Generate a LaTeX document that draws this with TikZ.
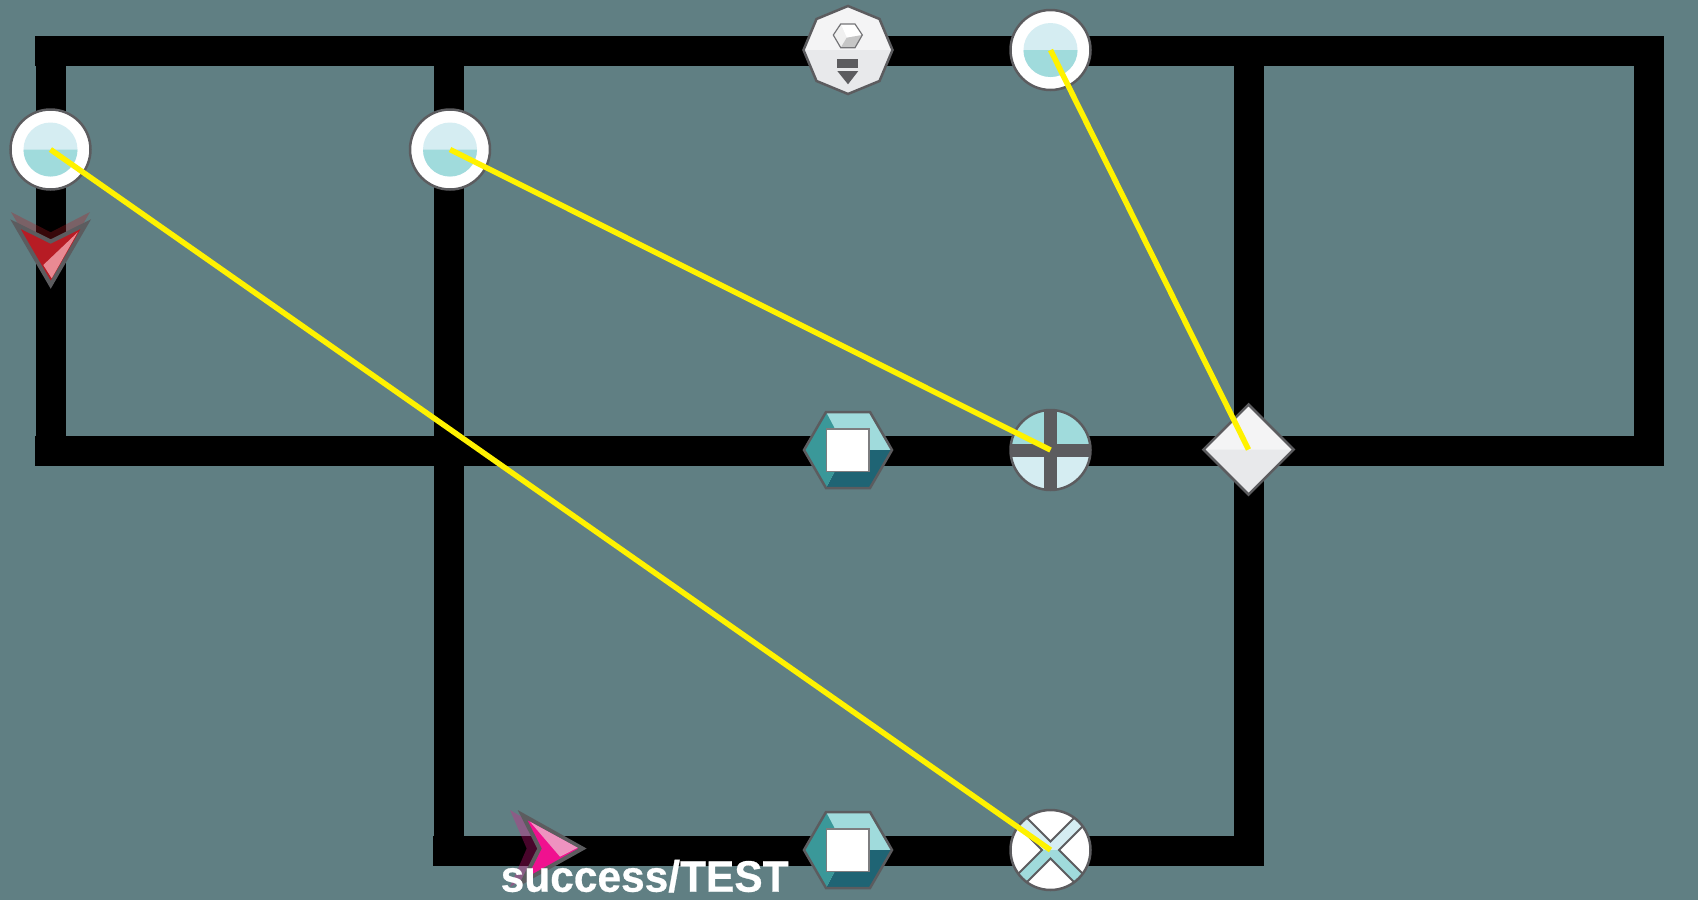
\documentclass[tikz,border=0pt]{standalone}
\usepackage{fontspec}
\newfontfamily\labelfont{Liberation Sans}[BoldFont={Liberation Sans Bold},BoldFeatures={FakeBold=0.6}]
\definecolor{bgc}{HTML}{607F83}
\definecolor{edgec}{HTML}{5C5C5F}
\definecolor{paleT}{HTML}{D5EDF2}
\definecolor{midT}{HTML}{A0DBDC}
\definecolor{leftT}{HTML}{3A9899}
\definecolor{darkT}{HTML}{1F6474}
\definecolor{hiG}{HTML}{F4F4F5}
\definecolor{loG}{HTML}{E8E9EB}
\definecolor{redA}{HTML}{B71C24}
\definecolor{redH}{HTML}{E98A93}
\definecolor{pinkA}{HTML}{F0118F}
\definecolor{pinkH}{HTML}{EE93C0}
\tikzset{
  wire/.style={line width=30pt,black,line cap=rect},
  link/.style={line width=5.5pt,yellow,line cap=butt},
  outline/.style={draw=edgec,line width=2.5pt,line join=miter},
  arrowbody/.style={draw=edgec,line width=4pt,line join=miter,miter limit=10},
}
\newcommand{\glassround}[1]{%
  \begin{scope}[shift={(#1)}]
    \fill[white] (0,0) circle (40pt);
    \fill[paleT] (0,0) circle (27pt);
    \fill[midT] (-27,0) arc (180:360:27pt) -- cycle;
    \draw[outline] (0,0) circle (40pt);
  \end{scope}}
\newcommand{\boxhex}[1]{%
  \begin{scope}[shift={(#1)}]
    \fill[midT] (-44,0) -- (-22,-38) -- (22,-38) -- (44,0) -- (22,38) -- (-22,38) -- cycle;
    \fill[darkT] (44,0) -- (22,38) -- (-22,38) -- (-13,21) -- (21,21) -- (21,0) -- cycle;
    \fill[leftT] (-44,0) -- (-22,-38) -- (-13,-21) -- (-21,-21) -- (-21,21) -- (-13,21) -- (-22,38) -- cycle;
    \draw[outline] (-44,0) -- (-22,-38) -- (22,-38) -- (44,0) -- (22,38) -- (-22,38) -- cycle;
    \draw[draw=edgec!80,line width=1.8pt,fill=white] (-21.5,-21) rectangle (21,21.5);
  \end{scope}}
\begin{document}
\begin{tikzpicture}[x=1pt,y=-1pt]
\fill[bgc] (0,0) rectangle (1698,900);
\useasboundingbox (0,0) rectangle (1698,900);
% junctions and element centres
\coordinate (tl) at (50,51);
\coordinate (tc) at (51,51);
\coordinate (tm) at (449,51);
\coordinate (tr) at (1248.5,51);
\coordinate (te) at (1649,51);
\coordinate (ml) at (50,451);
\coordinate (mc) at (51,451);
\coordinate (mm) at (449,451);
\coordinate (me) at (1649,451);
\coordinate (bl) at (448,851);
\coordinate (bm) at (449,851);
\coordinate (br) at (1248.5,851);
\coordinate (startA) at (50.5,149.5);
\coordinate (startB) at (450,149.5);
\coordinate (startC) at (1050.5,50);
\coordinate (comp) at (848,50);
\coordinate (hexA) at (848,450);
\coordinate (hexB) at (848,850);
\coordinate (plusG) at (1050.5,450);
\coordinate (crossG) at (1050.5,850);
\coordinate (diam) at (1248.5,449.5);
% sequence flows
\draw[wire] (tl) -- (tm) -- (tr) -- (te);
\draw[wire] (ml) -- (mm) -- (me);
\draw[wire] (bl) -- (br);
\draw[wire] (tc) -- (mc);
\draw[wire] (tm) -- (mm) -- (bm);
\draw[wire] (tr) -- (br);
\draw[wire] (te) -- (me);
% octagon task
\begin{scope}[shift={(comp)}]
  \fill[hiG] (-44.5,0) -- (-31.5,-31) -- (0,-44) -- (31.5,-31) -- (44.5,0) -- (31.5,31) -- (0,44) -- (-31.5,31) -- cycle;
  \fill[loG] (-44.5,0) -- (-31.5,31) -- (0,44) -- (31.5,31) -- (44.5,0) -- cycle;
  \draw[outline] (-44.5,0) -- (-31.5,-31) -- (0,-44) -- (31.5,-31) -- (44.5,0) -- (31.5,31) -- (0,44) -- (-31.5,31) -- cycle;
  % cube
  \fill[white] (-7.3,-26) -- (7,-26) -- (14.3,-15) -- (-1.3,-12.3) -- cycle;
  \fill[gray!12] (-14.7,-15) -- (-7.3,-26) -- (-1.3,-12.3) -- (-7.3,-2.3) -- cycle;
  \fill[gray!45] (14.3,-15) -- (7,-2.3) -- (-7.3,-2.3) -- (-1.3,-12.3) -- cycle;
  \draw[draw=edgec!85,line width=1.2pt] (-7.3,-26) -- (7,-26) -- (14.3,-15) -- (7,-2.3) -- (-7.3,-2.3) -- (-14.7,-15) -- cycle;
  % marker
  \fill[edgec] (-10.7,9) rectangle (10.3,18.3);
  \fill[edgec] (-10.7,21) -- (10.3,21) -- (0,34.3) -- cycle;
\end{scope}
% round events
\glassround{startA}
\glassround{startB}
\glassround{startC}
% hexagons
\boxhex{hexA}
\boxhex{hexB}
% plus gateway
\begin{scope}[shift={(plusG)}]
  \begin{scope}
    \clip (0,0) circle (40pt);
    \fill[paleT] (-41,-41) rectangle (41,41);
    \fill[midT] (-41,-41) rectangle (41,0);
    \fill[edgec] (-41,-6.5) rectangle (41,6.5);
    \fill[edgec] (-6.5,-41) rectangle (6.5,41);
  \end{scope}
  \draw[outline] (0,0) circle (40pt);
\end{scope}
% cross gateway
\begin{scope}[shift={(crossG)}]
  \fill[white] (0,0) circle (40pt);
  \begin{scope}
    \clip (0,0) circle (40pt);
    \fill[paleT] (-41,-41) rectangle (41,41);
    \fill[midT] (-41,0) rectangle (41,41);
    \foreach \ang in {0,90,180,270}{
      \filldraw[rotate=\ang,fill=white,draw=edgec,line width=1.8pt]
        (0,-8.5) -- (36,-44.5) -- (-36,-44.5) -- cycle;
    }
  \end{scope}
  \draw[outline] (0,0) circle (40pt);
\end{scope}
% diamond
\begin{scope}[shift={(diam)}]
  \fill[hiG] (-45,0) -- (0,-45) -- (45,0) -- (0,45) -- cycle;
  \fill[loG] (-45,0) -- (0,45) -- (45,0) -- cycle;
  \draw[outline] (-45,0) -- (0,-45) -- (45,0) -- (0,45) -- cycle;
\end{scope}
% red end marker
\fill[redA,opacity=.3] (11,212) -- (50.7,232.3) -- (90,212) -- (50.7,280) -- cycle;
\draw[arrowbody,fill=redA] (15.3,224) -- (50.7,241.5) -- (86,224) -- (50.7,284.8) -- cycle;
\fill[redH] (43.3,265) -- (77.7,232.3) -- (51.7,278.3) -- cycle;
% pink end marker
\fill[pinkA,opacity=.3] (510,810) -- (526.7,848.5) -- (510,887) -- (575,848.5) -- cycle;
\draw[arrowbody,fill=pinkA] (522.5,815) -- (539.5,848.5) -- (522.5,882) -- (582.5,848.5) -- cycle;
\fill[pinkH] (530,821.7) -- (577.7,847.7) -- (560,856.7) -- cycle;
% yellow links
\draw[link] (startA) -- (crossG);
\draw[link] (startB) -- (plusG);
\draw[link] (startC) -- (diam);
% label
\node[anchor=base west,inner sep=0pt,text=white] (lbl) at (500.5,891.7)
  {\scalebox{0.965}[1]{\labelfont\bfseries\fontsize{44}{44}\selectfont success/TEST}};
\end{tikzpicture}
\end{document}
